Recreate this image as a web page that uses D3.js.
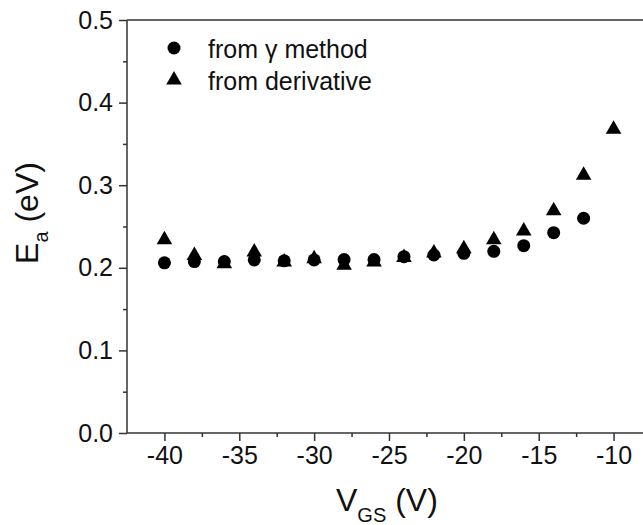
<!DOCTYPE html>
<html>
<head>
<meta charset="utf-8">
<script src="https://cdn.jsdelivr.net/npm/d3@7/dist/d3.min.js"></script>
<style>
  html, body { margin: 0; padding: 0; background: #fff; }
  svg { display: block; font-family: "Liberation Sans", Arial, sans-serif; }
</style>
</head>
<body>
<svg id="chart" width="643" height="525"></svg>
<script>
// Gate voltage (V) at which the activation energy was extracted
const vgs = [-40, -38, -36, -34, -32, -30, -28, -26, -24, -22, -20, -18, -16, -14, -12, -10];
// Activation energy (eV) from the gamma method (no value at -10 V)
const eaGamma = [0.206, 0.2075, 0.2075, 0.2095, 0.2085, 0.2095, 0.210, 0.210, 0.2135, 0.2155, 0.2175, 0.220, 0.2268, 0.2425, 0.260, null];
// Activation energy (eV) from the derivative
const eaDeriv = [0.234, 0.215, 0.205, 0.219, 0.207, 0.211, 0.203, 0.207, 0.2125, 0.218, 0.223, 0.234, 0.2445, 0.269, 0.312, 0.3677];
const xTicks = [-40, -35, -30, -25, -20, -15, -10];
const yTicks = [0.0, 0.1, 0.2, 0.3, 0.4, 0.5];
const legendLabels = ["from \u03b3 method", "from derivative"];

const svg = d3.select("#chart");
const axisColor = "#333";
const textColor = "#111";

const x = d3.scaleLinear().domain([-42.5, -7.5]).range([127, 651]);
const y = d3.scaleLinear().domain([0, 0.5]).range([433, 20]);

// top frame line
svg.append("line").attr("x1", x(-42.5)).attr("x2", x(-7.5))
  .attr("y1", y(0.5)).attr("y2", y(0.5))
  .attr("stroke", axisColor).attr("stroke-width", 1.5);

// bottom axis with minor ticks
const gx = svg.append("g").attr("transform", `translate(0,${y(0)})`)
  .call(d3.axisBottom(x).tickValues(xTicks).tickSize(8).tickPadding(5)
    .tickFormat(d => String(d)));
svg.append("g").attr("transform", `translate(0,${y(0)})`)
  .call(d3.axisBottom(x).tickValues(d3.range(-37.5, -7, 5)).tickSize(4).tickFormat(""))
  .call(g => g.select(".domain").remove());

// left axis with minor ticks
const gy = svg.append("g").attr("transform", `translate(${x(-42.5)},0)`)
  .call(d3.axisLeft(y).tickValues(yTicks).tickSize(8).tickPadding(6)
    .tickFormat(d3.format(".1f")));
svg.append("g").attr("transform", `translate(${x(-42.5)},0)`)
  .call(d3.axisLeft(y).tickValues([0.05, 0.15, 0.25, 0.35, 0.45]).tickSize(4).tickFormat(""))
  .call(g => g.select(".domain").remove());

svg.selectAll(".domain, .tick line").attr("stroke", axisColor).attr("stroke-width", 1.5);
gx.select(".domain").attr("d", `M${x(-42.5)},0H${x(-7.5)}`);
gy.select(".domain").attr("d", `M0,${y(0.5)}V${y(0)}`);
[gx, gy].forEach(g => g.selectAll(".tick text")
  .attr("fill", textColor).style("font-size", "25px")
  .style("font-family", "Liberation Sans, Arial, sans-serif"));

// axis titles
const yTitle = svg.append("text")
  .attr("transform", `translate(38,213) rotate(-90)`)
  .attr("text-anchor", "middle").attr("fill", textColor)
  .style("font-size", "32px");
yTitle.append("tspan").text("E");
yTitle.append("tspan").attr("dy", 10).style("font-size", "20px").text("a");
yTitle.append("tspan").attr("dy", -10).text(" (eV)");

const xTitle = svg.append("text")
  .attr("x", 336).attr("y", 511)
  .attr("text-anchor", "start").attr("fill", textColor)
  .style("font-size", "32px");
xTitle.append("tspan").text("V");
xTitle.append("tspan").attr("dy", 11).style("font-size", "20px").text("GS");
xTitle.append("tspan").attr("dy", -11).text(" (V)");

// markers
const circleR = 6.5;
const tri = d3.symbol().type(d3.symbolTriangle).size(105);

svg.append("g").selectAll("circle")
  .data(vgs.map((v, i) => [v, eaGamma[i]]).filter(d => d[1] != null))
  .join("circle")
  .attr("cx", d => x(d[0])).attr("cy", d => y(d[1])).attr("r", circleR)
  .attr("fill", "#000");

svg.append("g").selectAll("path")
  .data(vgs.map((v, i) => [v, eaDeriv[i]]))
  .join("path")
  .attr("d", tri)
  .attr("transform", d => `translate(${x(d[0])},${y(d[1])})`)
  .attr("fill", "#000");

// legend
const legend = svg.append("g");
legend.append("circle").attr("cx", 174).attr("cy", 48).attr("r", circleR).attr("fill", "#000");
legend.append("path").attr("d", tri).attr("transform", "translate(174,80)").attr("fill", "#000");
legend.selectAll("text").data(legendLabels).join("text")
  .attr("x", 208).attr("y", (d, i) => 49 + i * 32).attr("dy", "0.35em")
  .attr("fill", textColor).style("font-size", "25px").text(d => d);
</script>
</body>
</html>
